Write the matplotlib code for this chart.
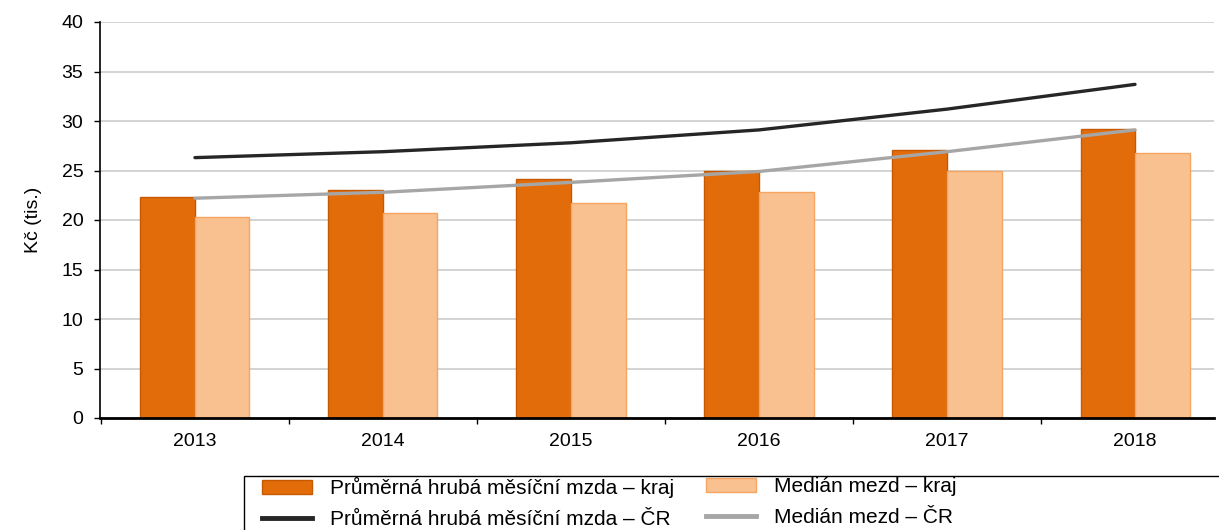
import numpy as np
import matplotlib.pyplot as plt
from matplotlib.patches import Patch, Rectangle
from matplotlib.lines import Line2D

plt.rcParams['font.family'] = ['Liberation Sans', 'DejaVu Sans']

# Data (tis. Kč)
roky = ['2013', '2014', '2015', '2016', '2017', '2018']
prumer_kraj = [22.3, 23.0, 24.1, 25.0, 27.1, 29.2]
median_kraj = [20.3, 20.7, 21.7, 22.8, 24.9, 26.8]
prumer_cr = [26.3, 26.9, 27.8, 29.1, 31.2, 33.7]
median_cr = [22.2, 22.8, 23.8, 24.9, 26.9, 29.1]

c_orange = '#e36c0a'
c_light = '#f9c090'
c_black = '#262626'
c_grey = '#a6a6a6'

W, H = 1219, 530
fig = plt.figure(figsize=(W / 100, H / 100), dpi=100)
ax = fig.add_axes([100 / W, 1 - 418 / H, 1114 / W, 396 / H])

x = np.arange(len(roky))
w = 0.29

ax.bar(x - w / 2, prumer_kraj, w, color=c_orange, edgecolor='#c55a00', linewidth=1, zorder=2)
ax.bar(x + w / 2, median_kraj, w, color=c_light, edgecolor='#f5a462', linewidth=1, zorder=2)
ax.plot(x, prumer_cr, color=c_black, linewidth=2.4, solid_capstyle='round', zorder=3)
ax.plot(x, median_cr, color=c_grey, linewidth=2.4, solid_capstyle='round', zorder=3)

ax.set_yticks(np.arange(0, 41, 5))
ax.set_xticks(x)
ax.set_xticklabels(roky)
ax.set_xticks(np.arange(-0.5, 5.0, 1), minor=True)
ax.set_xlim(-0.505, 5.42)
ax.set_ylim(0, 40)
ax.tick_params(axis='x', which='major', length=0, labelsize=14, pad=11)
ax.tick_params(axis='x', which='minor', length=4, width=1, color='black')
ax.tick_params(axis='y', length=4, width=1, labelsize=14, pad=8, direction='out')
ax.yaxis.grid(True, color='#c8c8c8', linewidth=1.1, zorder=0)
ax.set_axisbelow(True)

for s in ['top', 'right']:
    ax.spines[s].set_visible(False)
ax.spines['left'].set_linewidth(1.2)
ax.spines['bottom'].set_linewidth(2)

ax.set_ylabel('Kč (tis.)', fontsize=14, labelpad=14)

# legend: two single-column legends inside one frame
fig.add_artist(Rectangle((244 / W, -0.1), 1.0, 1 - 476 / H + 0.1,
                         transform=fig.transFigure, fill=False,
                         edgecolor='black', linewidth=1))

leg_kw = dict(loc='upper left', fontsize=15, frameon=False,
              handlelength=2.4, handleheight=0.68, handletextpad=0.85,
              labelspacing=0.58, borderpad=0, borderaxespad=0)
leg1 = fig.legend(
    [Patch(facecolor=c_orange, edgecolor='#c55a00'), Line2D([], [], color=c_black, linewidth=3.5)],
    ['Průměrná hrubá měsíční mzda – kraj', 'Průměrná hrubá měsíční mzda – ČR'],
    bbox_to_anchor=(262 / W, 1 - 477 / H), **leg_kw)
leg2 = fig.legend(
    [Patch(facecolor=c_light, edgecolor='#f5a462'), Line2D([], [], color=c_grey, linewidth=3.5)],
    ['Medián mezd – kraj', 'Medián mezd – ČR'],
    bbox_to_anchor=(706 / W, 1 - 477 / H), **leg_kw)

fig.savefig('out.png', dpi=100)
